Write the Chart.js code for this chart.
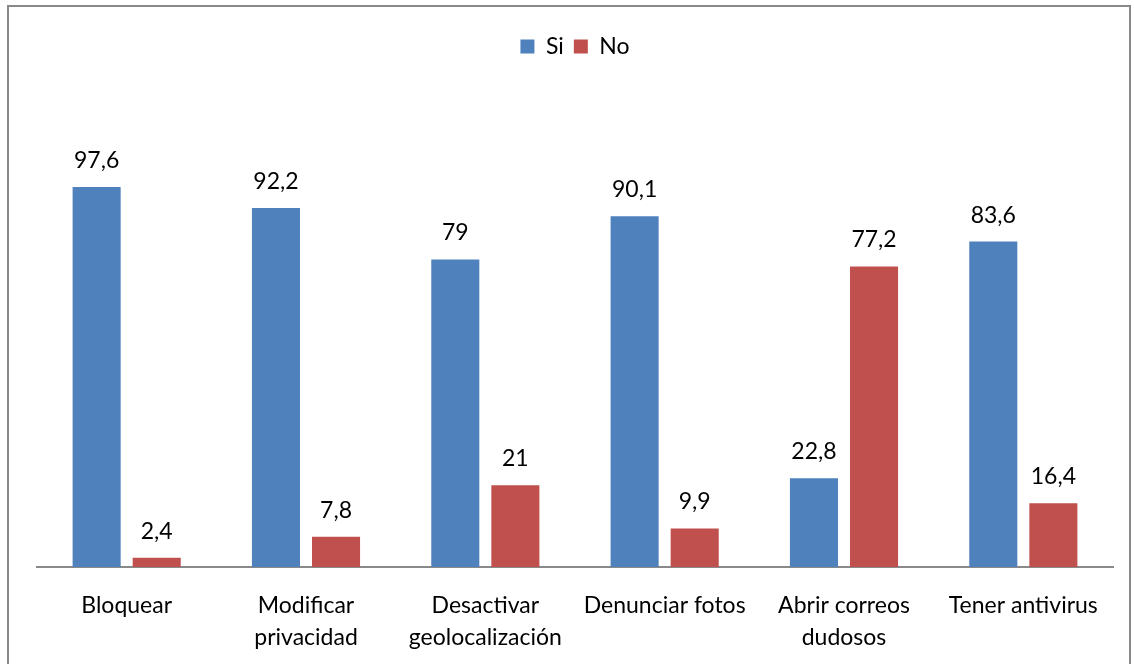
<!DOCTYPE html>
<html>
<head>
<meta charset="utf-8">
<script src="https://cdn.jsdelivr.net/npm/chart.js@4"></script>
<style>
  html, body { margin: 0; padding: 0; background: #fff; overflow: hidden; }
  #marco { position: absolute; left: 7px; top: 5px; width: 1120px; height: 700px; border: 2px solid #898989; }
  #wrap { position: absolute; left: 0; top: 0; width: 1134px; height: 664px; }
</style>
</head>
<body>
<div id="marco"></div>
<div id="wrap"><canvas id="grafico"></canvas></div>
<script>
// Datos del gráfico
const categorias = [
    'Bloquear',
    ['Modificar', 'privacidad'],
    ['Desactivar', 'geolocalización'],
    'Denunciar fotos',
    ['Abrir correos', 'dudosos'],
    'Tener antivirus'
];
const valoresSi = [97.6, 92.2, 79, 90.1, 22.8, 83.6];
const valoresNo = [2.4, 7.8, 21, 9.9, 77.2, 16.4];

const fuente = "Lato, 'Open Sans', sans-serif";

// Etiquetas de valor encima de cada barra (coma decimal)
const etiquetasValor = {
    id: 'etiquetasValor',
    afterDatasetsDraw(chart) {
        const ctx = chart.ctx;
        ctx.save();
        ctx.font = '23px ' + fuente;
        ctx.fillStyle = '#000';
        ctx.textAlign = 'center';
        ctx.textBaseline = 'bottom';
        chart.data.datasets.forEach((ds, i) => {
            chart.getDatasetMeta(i).data.forEach((bar, j) => {
                const txt = String(ds.data[j]).replace('.', ',');
                ctx.fillText(txt, bar.x, bar.y - 15);
            });
        });
        ctx.restore();
    }
};

const ctx = document.getElementById('grafico').getContext('2d');
new Chart(ctx, {
    type: 'bar',
    data: {
        labels: categorias,
        datasets: [{
            label: 'Si',
            data: valoresSi,
            backgroundColor: '#4F81BD',
            categoryPercentage: 0.67,
            barPercentage: 0.8
        }, {
            label: 'No',
            data: valoresNo,
            backgroundColor: '#C0504D',
            categoryPercentage: 0.67,
            barPercentage: 0.8
        }]
    },
    options: {
        responsive: true,
        maintainAspectRatio: false,
        animation: false,
        layout: { padding: { top: 25, left: 37, right: 21, bottom: 0 } },
        scales: {
            x: {
                grid: { display: false, drawTicks: false },
                border: { color: '#898989', width: 2 },
                ticks: { color: '#000', padding: 22, font: { family: fuente, size: 23, lineHeight: 1.4 } },
                afterFit(scale) { scale.height = 97; }
            },
            y: {
                display: false,
                min: 0,
                max: 128.2
            }
        },
        plugins: {
            legend: {
                position: 'top',
                labels: {
                    color: '#000',
                    boxWidth: 14,
                    boxHeight: 14,
                    padding: 10,
                    font: { family: fuente, size: 23 }
                }
            },
            tooltip: { enabled: false }
        }
    },
    plugins: [etiquetasValor]
});
</script>
</body>
</html>
